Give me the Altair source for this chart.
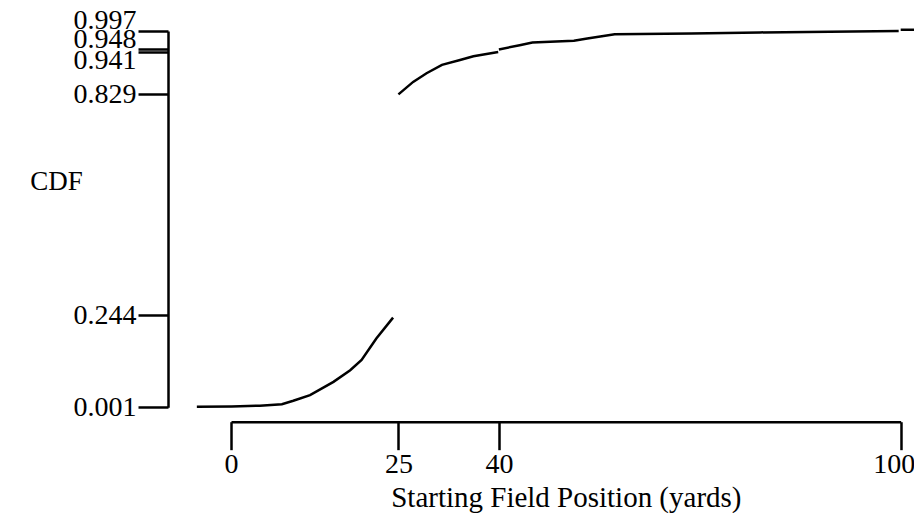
import altair as alt
import pandas as pd

# CDF segments (x in yards, y = cumulative probability)
seg1_x = [-5.1, 0.1, 4.3, 7.6, 9.3, 11.8, 15.3, 17.8, 19.5, 21.7, 24.2]
seg1_y = [0.002, 0.003, 0.005, 0.009, 0.018, 0.033, 0.068, 0.099, 0.126, 0.183, 0.238]
seg2_x = [25.0, 27.2, 29.2, 31.5, 34.2, 36.2, 39.9]
seg2_y = [0.829, 0.862, 0.885, 0.907, 0.920, 0.930, 0.941]
seg3_x = [40.0, 43.1, 45.0, 51.2, 53.2, 57.3, 68.7, 79.0, 89.4, 99.7]
seg3_y = [0.948, 0.959, 0.966, 0.971, 0.977, 0.988, 0.990, 0.993, 0.995, 0.997]
seg4_x = [100.0, 103.5]
seg4_y = [1.0, 1.0]

x_ticks = [0, 25, 40, 100]
y_ticks = [0.001, 0.244, 0.829, 0.941, 0.948, 0.997]

rows = []
for sid, xs, ys in [(1, seg1_x, seg1_y), (2, seg2_x, seg2_y), (3, seg3_x, seg3_y), (4, seg4_x, seg4_y)]:
    for a, b in zip(xs, ys):
        rows.append({"seg": sid, "x": a, "y": b})
df = pd.DataFrame(rows)

FONT = "Liberation Serif"

x_axis = alt.Axis(
    values=x_ticks, format="d", title="Starting Field Position (yards)",
    grid=False, domainColor="black", domainWidth=2.5, tickColor="black", tickWidth=2.5,
    tickSize=28, labelFont=FONT, labelFontSize=28, labelColor="black", labelPadding=1,
    labelFlush=False, labelOverlap=False, labelBound=False,
    labelOffset={"condition": {"test": "datum.value === 100", "value": -7}, "value": 0},
    titleFont=FONT, titleFontSize=29, titleFontWeight="normal", titleColor="black",
    titleY=85, titleBaseline="alphabetic",
)

y_axis = alt.Axis(
    values=y_ticks, format=".3f", title="CDF",
    grid=False, domainColor="black", domainWidth=2.5, tickColor="black", tickWidth=2.5,
    tickSize=30, labelFont=FONT, labelFontSize=28, labelColor="black", labelPadding=2,
    labelFlush=False, labelOverlap=False, labelBound=False,
    labelOffset={"condition": [
        {"test": "datum.value === 0.997", "value": -10},
        {"test": "datum.value === 0.948", "value": -10},
        {"test": "datum.value === 0.941", "value": 8},
    ], "value": 0},
    titleFont=FONT, titleFontSize=27, titleFontWeight="normal", titleColor="black",
    titleAngle=0, titleX=-112, titleY=162, titleAlign="center", titleBaseline="middle",
)

chart = alt.Chart(df).mark_line(color="black", strokeWidth=2.5, clip=False).encode(
    x=alt.X("x:Q", scale=alt.Scale(domain=[0, 100], range=[63, 732.7], zero=False, nice=False), axis=x_axis),
    y=alt.Y("y:Q", scale=alt.Scale(domain=[0.001, 0.997], range=[387.2, 10.9], zero=False, nice=False), axis=y_axis),
    detail="seg:N",
    order="x:Q",
).properties(
    width=746, height=401.7,
    autosize=alt.AutoSizeParams(type="none"),
    padding={"left": 160, "top": 12, "right": 0, "bottom": 91},
).configure_view(stroke=None)

chart.save("out.html", embed_options={"renderer": "svg", "actions": False})
